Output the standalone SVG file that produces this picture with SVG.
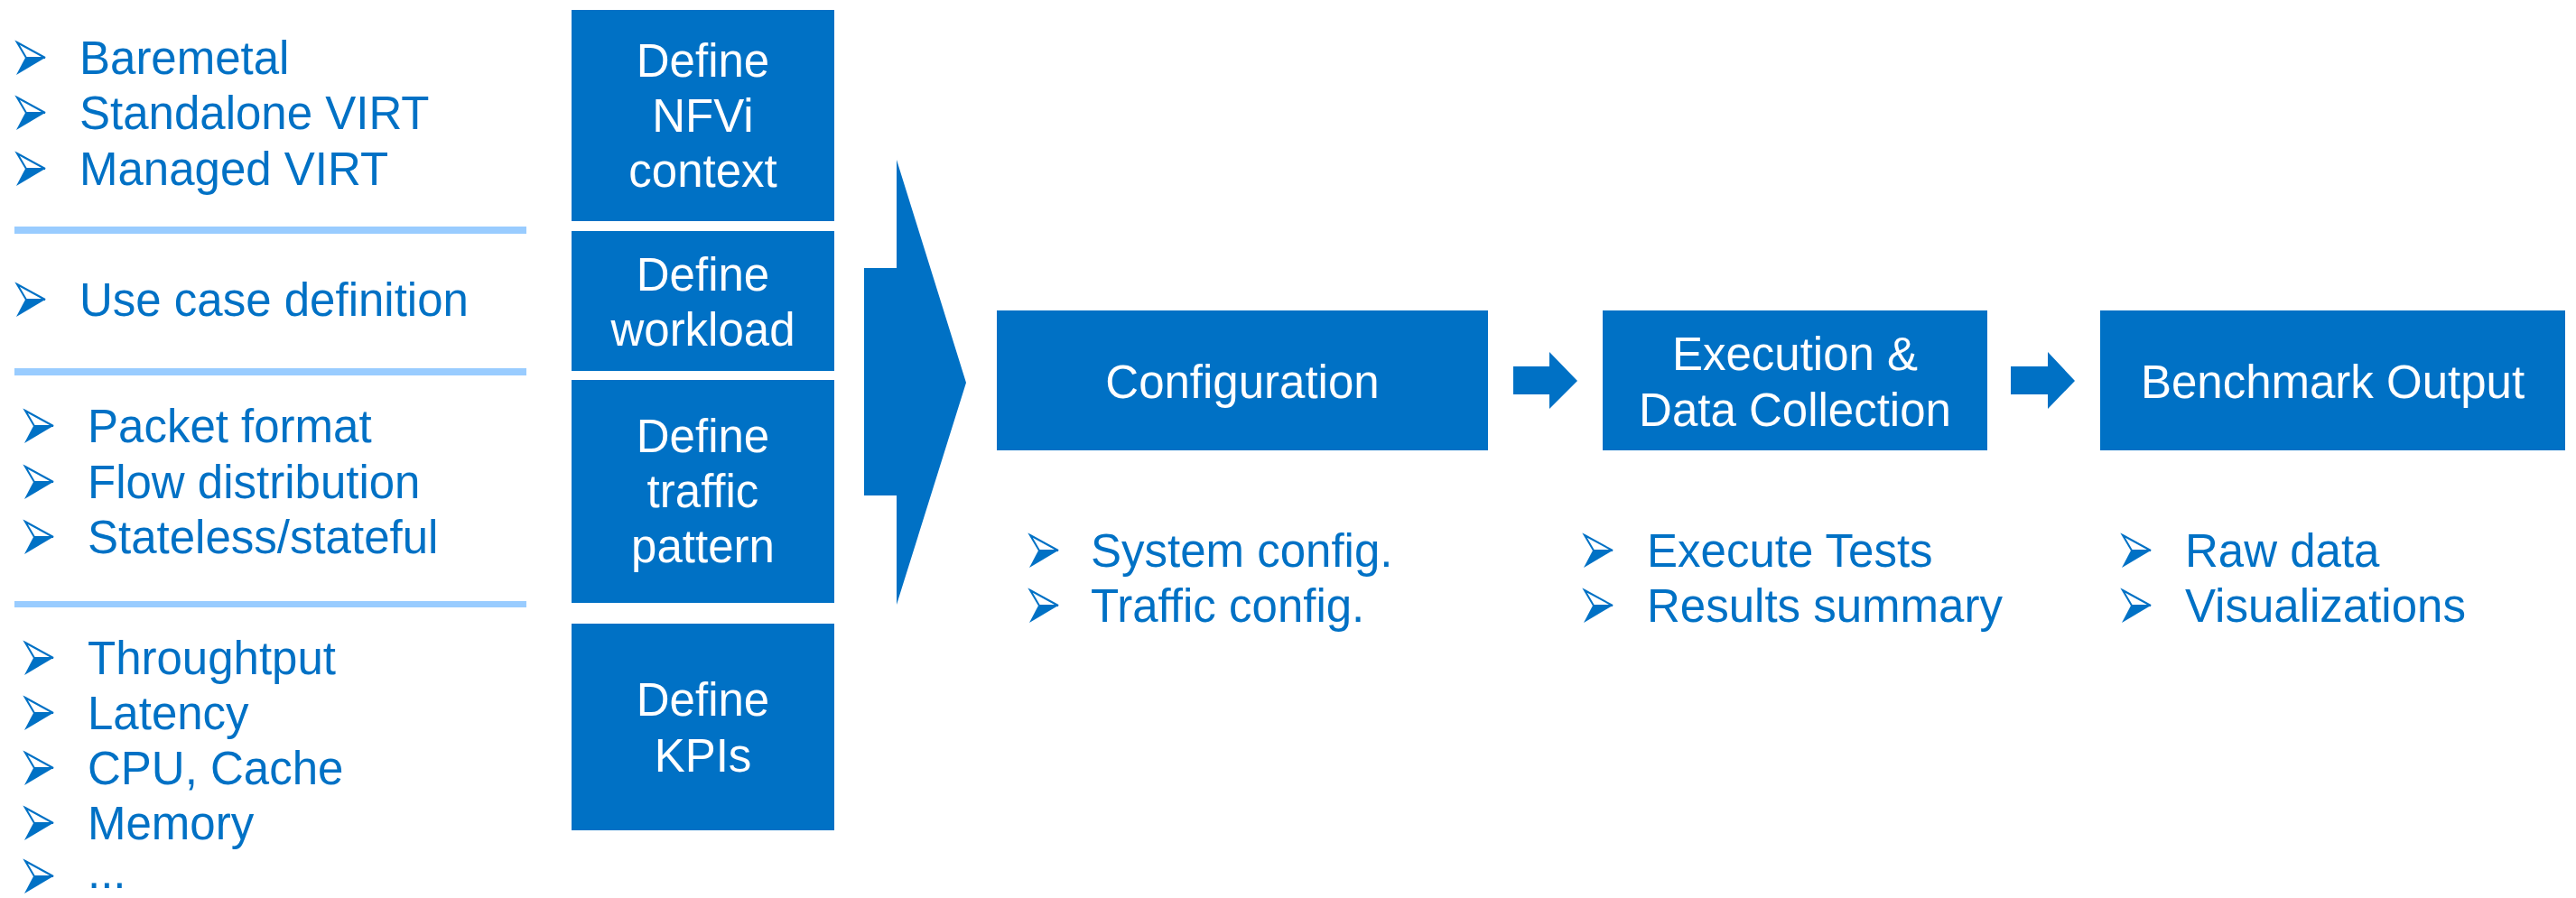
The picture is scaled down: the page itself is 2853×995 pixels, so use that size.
<svg xmlns="http://www.w3.org/2000/svg" xmlns:xlink="http://www.w3.org/1999/xlink" width="2853" height="995" viewBox="0 0 2853 995">
  <style>
    .box { fill: #0071C5; }
    .boxtxt { font-family: "Liberation Sans", Arial, sans-serif; font-size: 51px; fill: #FFFFFF; text-anchor: middle; }
    .item { font-family: "Liberation Sans", Arial, sans-serif; font-size: 51px; fill: #0071C5; }
    .sep { fill: #99CCFF; }
    .flow { fill: #0071C5; }
  </style>
  <defs>
    <!-- arrowhead list bullet, origin at its bottom-left corner -->
    <g id="bullet">
      <polygon points="1,-36 32,-19 11,-19" fill="#FFFFFF" stroke="#0071C5" stroke-width="2" stroke-linejoin="miter"/>
      <polygon points="10,-19 32,-19 0,0" fill="#0071C5"/>
    </g>
  </defs>

  <rect width="2853" height="995" fill="#FFFFFF"/>

  <!-- left-hand option lists -->
  <g id="list-context">
    <use xlink:href="#bullet" x="18" y="83"/>
    <text class="item" x="88" y="82">Baremetal</text>
    <use xlink:href="#bullet" x="18" y="144"/>
    <text class="item" x="88" y="143">Standalone VIRT</text>
    <use xlink:href="#bullet" x="18" y="206"/>
    <text class="item" x="88" y="205">Managed VIRT</text>
  </g>
  <g id="list-workload">
    <use xlink:href="#bullet" x="18" y="351"/>
    <text class="item" x="88" y="350">Use case definition</text>
  </g>
  <g id="list-traffic">
    <use xlink:href="#bullet" x="27" y="491"/>
    <text class="item" x="97" y="490">Packet format</text>
    <use xlink:href="#bullet" x="27" y="553"/>
    <text class="item" x="97" y="552">Flow distribution</text>
    <use xlink:href="#bullet" x="27" y="614"/>
    <text class="item" x="97" y="613">Stateless/stateful</text>
  </g>
  <g id="list-kpis">
    <use xlink:href="#bullet" x="27" y="748"/>
    <text class="item" x="97" y="747">Throughtput</text>
    <use xlink:href="#bullet" x="27" y="809"/>
    <text class="item" x="97" y="808">Latency</text>
    <use xlink:href="#bullet" x="27" y="870"/>
    <text class="item" x="97" y="869">CPU, Cache</text>
    <use xlink:href="#bullet" x="27" y="931"/>
    <text class="item" x="97" y="930">Memory</text>
    <use xlink:href="#bullet" x="27" y="990"/>
    <text class="item" x="97" y="984">...</text>
  </g>

  <!-- separators between the lists -->
  <g id="separators">
    <rect class="sep" x="16" y="251" width="567" height="8"/>
    <rect class="sep" x="16" y="408" width="567" height="8"/>
    <rect class="sep" x="16" y="666" width="567" height="7"/>
  </g>

  <!-- definition steps -->
  <g id="define-nfvi">
    <rect class="box" x="633" y="11" width="291" height="234"/>
    <text class="boxtxt" x="778.5" y="85">Define</text>
    <text class="boxtxt" x="778.5" y="146">NFVi</text>
    <text class="boxtxt" x="778.5" y="207">context</text>
  </g>
  <g id="define-workload">
    <rect class="box" x="633" y="256" width="291" height="155"/>
    <text class="boxtxt" x="778.5" y="322">Define</text>
    <text class="boxtxt" x="778.5" y="383">workload</text>
  </g>
  <g id="define-traffic">
    <rect class="box" x="633" y="421" width="291" height="247"/>
    <text class="boxtxt" x="778.5" y="501">Define</text>
    <text class="boxtxt" x="778.5" y="562">traffic</text>
    <text class="boxtxt" x="778.5" y="623">pattern</text>
  </g>
  <g id="define-kpis">
    <rect class="box" x="633" y="691" width="291" height="229"/>
    <text class="boxtxt" x="778.5" y="793">Define</text>
    <text class="boxtxt" x="778.5" y="855">KPIs</text>
  </g>

  <!-- pipeline stages -->
  <g id="configuration">
    <rect class="box" x="1104" y="344" width="544" height="155"/>
    <text class="boxtxt" x="1376" y="441">Configuration</text>
  </g>
  <g id="execution">
    <rect class="box" x="1775" y="344" width="426" height="155"/>
    <text class="boxtxt" x="1988" y="410">Execution &amp;</text>
    <text class="boxtxt" x="1988" y="472">Data Collection</text>
  </g>
  <g id="benchmark-output">
    <rect class="box" x="2326" y="344" width="515" height="155"/>
    <text class="boxtxt" x="2583.5" y="441">Benchmark Output</text>
  </g>

  <!-- stage details -->
  <g id="list-configuration">
    <use xlink:href="#bullet" x="1140" y="629"/>
    <text class="item" x="1208" y="628">System config.</text>
    <use xlink:href="#bullet" x="1140" y="690"/>
    <text class="item" x="1208" y="689">Traffic config.</text>
  </g>
  <g id="list-execution">
    <use xlink:href="#bullet" x="1754" y="629"/>
    <text class="item" x="1824" y="628">Execute Tests</text>
    <use xlink:href="#bullet" x="1754" y="690"/>
    <text class="item" x="1824" y="689">Results summary</text>
  </g>
  <g id="list-output">
    <use xlink:href="#bullet" x="2350" y="629"/>
    <text class="item" x="2420" y="628">Raw data</text>
    <use xlink:href="#bullet" x="2350" y="690"/>
    <text class="item" x="2420" y="689">Visualizations</text>
  </g>

  <!-- connectors -->
  <g id="connectors">
    <path class="flow" d="M957,297 H993 V177 L1070,424 L993,670 V549 H957 Z"/>
    <path class="flow" d="M1676,406 H1716 V390 L1747,422 L1716,453 V437 H1676 Z"/>
    <path class="flow" d="M2227,406 H2268 V390 L2298,422 L2268,453 V437 H2227 Z"/>
  </g>
</svg>
